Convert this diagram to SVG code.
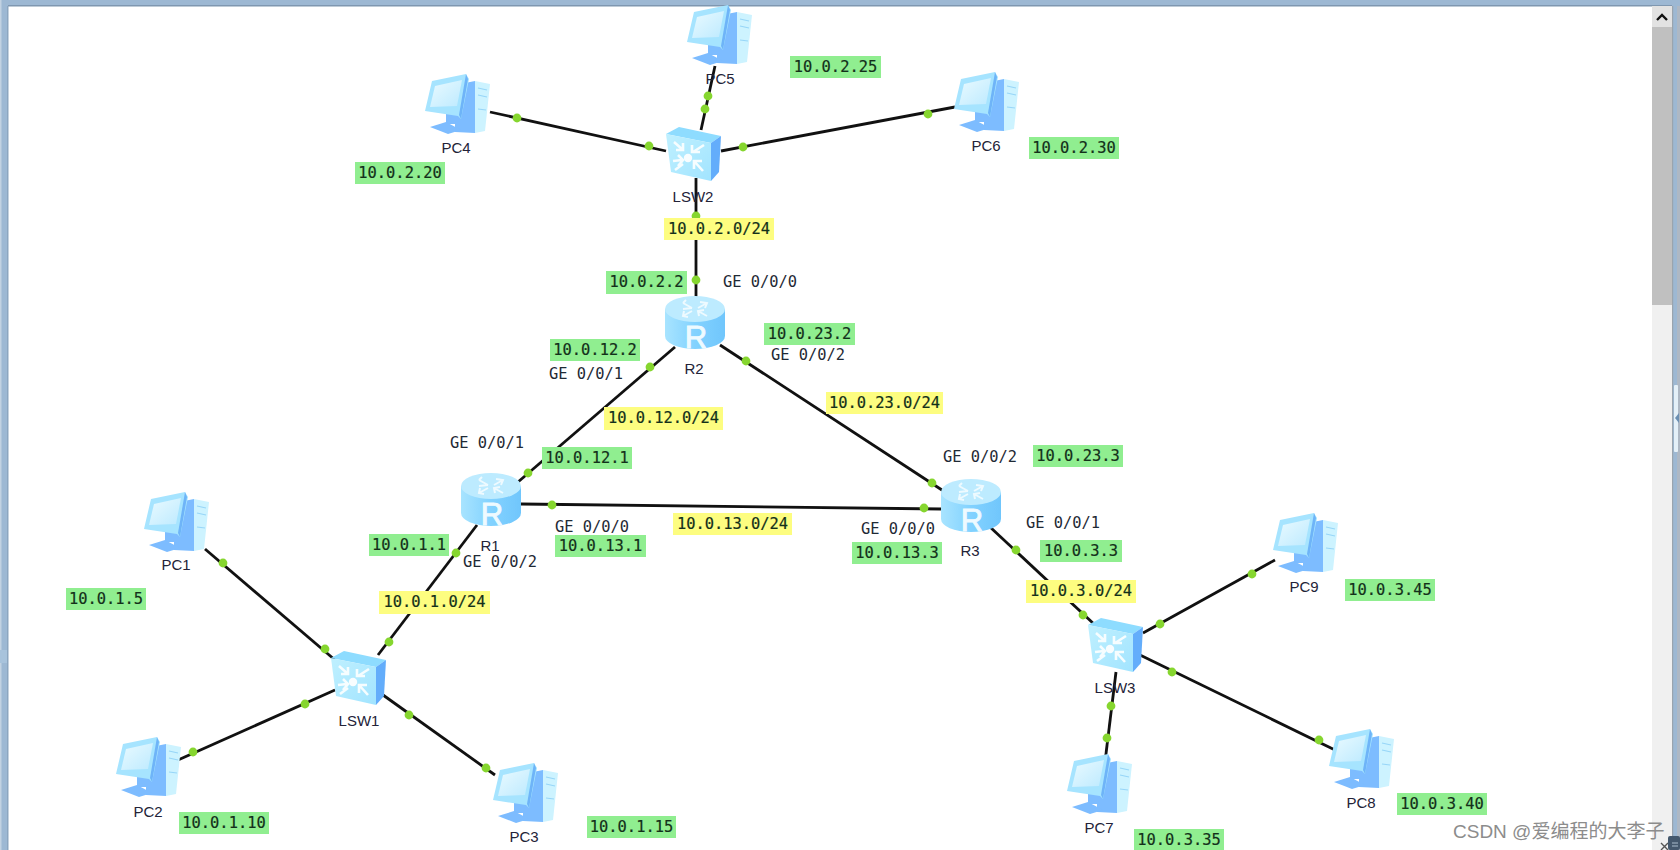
<svg xmlns="http://www.w3.org/2000/svg" width="1680" height="850" viewBox="0 0 1680 850">
<style>
.lnk{stroke:#111;stroke-width:2.8;fill:none}
.dot{fill:#86d62f}
.name{font:15px "Liberation Sans",Arial,sans-serif;fill:#232338;text-anchor:middle}
.mono{font:15.4px "DejaVu Sans Mono",monospace;fill:#1f2a35}
.ip{font:15.4px "DejaVu Sans Mono",monospace;fill:#13301a;text-anchor:middle;stroke:#13301a;stroke-width:.2}
.g{fill:#90ee90}
.y{fill:#fdfd80}
.rl{font:31px "Liberation Sans",Arial,sans-serif;fill:#eefaff;stroke:#eefaff;stroke-width:.9;text-anchor:middle}
.fr{fill:#9db8d3}
</style>
<defs>
<filter id="soft" x="-10%" y="-10%" width="120%" height="120%"><feGaussianBlur stdDeviation=".45"/></filter>
<linearGradient id="rb" x1="0" x2="1" y1="0" y2="0"><stop offset="0" stop-color="#a8e4ff"/><stop offset=".5" stop-color="#82d2ff"/><stop offset="1" stop-color="#70c6fc"/></linearGradient>
<linearGradient id="sf" x1="0" x2="1" y1="0" y2="1"><stop offset="0" stop-color="#bff0ff"/><stop offset="1" stop-color="#a2e4ff"/></linearGradient>
<linearGradient id="scr" x1="0" x2="1" y1="0" y2="1"><stop offset="0" stop-color="#eafaff"/><stop offset="1" stop-color="#bdeaff"/></linearGradient>
<g id="pc" filter="url(#soft)">
<polygon points="-2,-19 18,-23 18,29 -2,28" fill="#7dbcff"/>
<polygon points="18,-23 33,-20 28,27 18,29" fill="#cdf3ff"/>
<path d="M21,-16L30,-14M21,-9L30,-7M21,5L29,6" stroke="#97d6f8" stroke-width="1.2"/>
<polygon points="-11,9 -2,9 -2,20 -11,20" fill="#7dbcff"/>
<polygon points="-27,23 -11,18 4,26 -9,30" fill="#7dbcff"/>
<polygon points="-25,-23 9,-30 12,-25 4,15 1,12 -32,7" fill="#a6e4ff"/>
<polygon points="9,-30 11,-25 4,15 2,11" fill="#6eb4f8"/>
<polygon points="-22,-18 5,-24 0,2 -27,3" fill="url(#scr)"/>
</g>
<g id="sw" filter="url(#soft)">
<polygon points="-27,-20 -14,-27 28,-18 18,-11" fill="#8edcff"/>
<polygon points="-27,-20 18,-11 18,27 -22,18" fill="url(#sf)"/>
<polygon points="18,-11 28,-18 26,18 18,27" fill="#63adfb"/>
<g stroke="#f6fdff" stroke-width="2.6" fill="none">
<path d="M-19,-12L-10,-4M-10,-11V-4H-17"/>
<path d="M11,-9L0,-2M-1,-9V-2H7"/>
<path d="M-20,7L-11,6M-15,1L-10,6L-15,12"/>
<path d="M10,17L1,7M1,15V7H9"/>
<path d="M-18,16L-10,10"/>
</g>
<circle cx="-5" cy="4" r="4.2" fill="#f8fdff"/>
</g>
<g id="rt" filter="url(#soft)">
<path d="M-30,-14V13A30,13 0 0 0 30,13V-14Z" fill="url(#rb)"/>
<ellipse cx="0" cy="-14" rx="30" ry="13" fill="#bdebff"/>
<g stroke="#eefaff" stroke-width="2" fill="none">
<path d="M-12,-20L-3,-15M-12,-14L-3,-15M-9,-23L-12,-20"/>
<path d="M12,-20L3,-15M5,-21L12,-20L10,-15"/>
<path d="M-12,-7L-3,-12M-11,-12L-12,-7L-7,-6"/>
<path d="M12,-7L3,-12M4,-7L3,-12L9,-13"/>
</g>
</g>
</defs>

<rect width="1680" height="850" fill="#fff"/>
<g id="frame">
<rect class="fr" width="1680" height="5"/>
<rect y="5" width="1680" height="1.5" fill="#7f97b0"/>
<rect class="fr" width="8" height="850" y="0"/>
<rect x="0" y="0" width="1.5" height="850" fill="#c2d2e2"/>
<rect x="0" y="650" width="8" height="13" fill="#a8c3dc"/>
<rect x="7" y="6" width="1.5" height="844" fill="#8ca6c0"/>
<rect x="1652" y="6" width="20" height="844" fill="#f0f0f0"/>
<rect x="1652" y="6" width="20" height="21" fill="#e2e2e2"/>
<path d="M1657,20L1662,15L1667,20" stroke="#111" stroke-width="2.4" fill="none"/>
<rect x="1652" y="27" width="20" height="278" fill="#c0c0c0"/>
<rect x="1672" y="0" width="8" height="850" fill="#9db8d3"/>
<rect x="1672" y="6" width="1.2" height="844" fill="#9aa4ae"/>
<rect x="1677" y="6" width="3" height="844" fill="#aeb8c4"/>
<rect x="1674" y="385" width="4" height="67" rx="1" fill="#e4f0f8"/>
<path d="M1679,413L1675,418L1679,423Z" fill="#6b8fb2"/>
<path d="M1661,843L1668,850M1668,843L1661,850" stroke="#555" stroke-width="1.4"/>
<rect x="1668" y="836" width="12" height="14" rx="2" fill="#44586d"/>
<path d="M1672,843H1678M1672,846H1678" stroke="#a9bccd" stroke-width="1"/>
</g>

<g id="connectors">
<path class="lnk" d="M490,112L666,151"/>
<path class="lnk" d="M715,66L701,130"/>
<path class="lnk" d="M721,151L955,107"/>
<path class="lnk" d="M696,178V300"/>
<path class="lnk" d="M675,347L518,482"/>
<path class="lnk" d="M720,345L945,492"/>
<path class="lnk" d="M521,504L941,509"/>
<path class="lnk" d="M477,525L378,655"/>
<path class="lnk" d="M205,549L335,660"/>
<path class="lnk" d="M178,760L335,690"/>
<path class="lnk" d="M383,695L495,775"/>
<path class="lnk" d="M990,527L1095,625"/>
<path class="lnk" d="M1143,633L1275,560"/>
<path class="lnk" d="M1140,655L1335,750"/>
<path class="lnk" d="M1116,672L1104,770"/>
<g class="dot">
<circle cx="517" cy="118" r="4.4"/><circle cx="649" cy="146" r="4.4"/>
<circle cx="708" cy="96" r="4.4"/><circle cx="705" cy="109" r="4.4"/>
<circle cx="743" cy="147" r="4.4"/><circle cx="928" cy="114" r="4.4"/>
<circle cx="696" cy="216" r="4.4"/><circle cx="696" cy="280" r="4.4"/>
<circle cx="650" cy="367" r="4.4"/><circle cx="528" cy="473" r="4.4"/>
<circle cx="746" cy="361" r="4.4"/><circle cx="932" cy="483" r="4.4"/>
<circle cx="552" cy="505" r="4.4"/><circle cx="924" cy="508" r="4.4"/>
<circle cx="456" cy="553" r="4.4"/><circle cx="389" cy="642" r="4.4"/>
<circle cx="223" cy="563" r="4.4"/><circle cx="325" cy="649" r="4.4"/>
<circle cx="305" cy="704" r="4.4"/><circle cx="193" cy="752" r="4.4"/>
<circle cx="409" cy="715" r="4.4"/><circle cx="486" cy="768" r="4.4"/>
<circle cx="1016" cy="550" r="4.4"/><circle cx="1083" cy="615" r="4.4"/>
<circle cx="1160" cy="624" r="4.4"/><circle cx="1252" cy="574" r="4.4"/>
<circle cx="1172" cy="672" r="4.4"/><circle cx="1319" cy="740" r="4.4"/>
<circle cx="1111" cy="706" r="4.4"/><circle cx="1107" cy="738" r="4.4"/>
</g>
</g>

<g id="PC1"><use href="#pc" x="176" y="522"/><text class="name" x="176" y="570">PC1</text></g>
<g id="PC2"><use href="#pc" x="148" y="767"/><text class="name" x="148" y="817">PC2</text></g>
<g id="PC3"><use href="#pc" x="525" y="793"/><text class="name" x="524" y="842">PC3</text></g>
<g id="PC4"><use href="#pc" x="457" y="104"/><text class="name" x="456" y="153">PC4</text></g>
<g id="PC5"><use href="#pc" x="719" y="35"/><text class="name" x="720" y="84">PC5</text></g>
<g id="PC6"><use href="#pc" x="986" y="102"/><text class="name" x="986" y="151">PC6</text></g>
<g id="PC7"><use href="#pc" x="1099" y="784"/><text class="name" x="1099" y="833">PC7</text></g>
<g id="PC8"><use href="#pc" x="1361" y="759"/><text class="name" x="1361" y="808">PC8</text></g>
<g id="PC9"><use href="#pc" x="1305" y="543"/><text class="name" x="1304" y="592">PC9</text></g>
<g id="LSW1"><use href="#sw" x="358" y="678"/><text class="name" x="359" y="726">LSW1</text></g>
<g id="LSW2"><use href="#sw" x="693" y="154"/><text class="name" x="693" y="202">LSW2</text></g>
<g id="LSW3"><use href="#sw" x="1115" y="645"/><text class="name" x="1115" y="693">LSW3</text></g>
<g id="R1"><use href="#rt" x="491" y="500"/><text class="rl" x="492" y="525">R</text><text class="name" x="490" y="551">R1</text></g>
<g id="R2"><use href="#rt" x="695" y="323"/><text class="rl" x="696" y="348">R</text><text class="name" x="694" y="374">R2</text></g>
<g id="R3"><use href="#rt" x="971" y="506"/><text class="rl" x="972" y="531">R</text><text class="name" x="970" y="556">R3</text></g>

<g id="interfaces">
<text class="mono" x="723" y="287">GE 0/0/0</text>
<text class="mono" x="771" y="360">GE 0/0/2</text>
<text class="mono" x="549" y="379">GE 0/0/1</text>
<text class="mono" x="450" y="448">GE 0/0/1</text>
<text class="mono" x="555" y="532">GE 0/0/0</text>
<text class="mono" x="463" y="567">GE 0/0/2</text>
<text class="mono" x="861" y="534">GE 0/0/0</text>
<text class="mono" x="943" y="462">GE 0/0/2</text>
<text class="mono" x="1026" y="528">GE 0/0/1</text>
</g>

<g id="addresses">
<rect class="g" x="790" y="56" width="91" height="22"/><text class="ip" x="835.5" y="71.5">10.0.2.25</text>
<rect class="g" x="355" y="162" width="90" height="22"/><text class="ip" x="400" y="177.5">10.0.2.20</text>
<rect class="g" x="1029" y="137" width="90" height="22"/><text class="ip" x="1074" y="152.5">10.0.2.30</text>
<rect class="g" x="606" y="271" width="81" height="23"/><text class="ip" x="646.5" y="286.5">10.0.2.2</text>
<rect class="g" x="764" y="323" width="91" height="22"/><text class="ip" x="809.5" y="338.5">10.0.23.2</text>
<rect class="g" x="550" y="339" width="90" height="22"/><text class="ip" x="595" y="354.5">10.0.12.2</text>
<rect class="g" x="542" y="447" width="90" height="22"/><text class="ip" x="587" y="462.5">10.0.12.1</text>
<rect class="g" x="1033" y="445" width="90" height="22"/><text class="ip" x="1078" y="460.5">10.0.23.3</text>
<rect class="g" x="369" y="534" width="80" height="22"/><text class="ip" x="409" y="549.5">10.0.1.1</text>
<rect class="g" x="555" y="535" width="91" height="22"/><text class="ip" x="600.5" y="550.5">10.0.13.1</text>
<rect class="g" x="852" y="542" width="90" height="22"/><text class="ip" x="897" y="557.5">10.0.13.3</text>
<rect class="g" x="1040" y="540" width="82" height="22"/><text class="ip" x="1081" y="555.5">10.0.3.3</text>
<rect class="g" x="66" y="588" width="80" height="22"/><text class="ip" x="106" y="603.5">10.0.1.5</text>
<rect class="g" x="179" y="812" width="90" height="22"/><text class="ip" x="224" y="827.5">10.0.1.10</text>
<rect class="g" x="587" y="816" width="89" height="22"/><text class="ip" x="631.5" y="831.5">10.0.1.15</text>
<rect class="g" x="1345" y="579" width="90" height="22"/><text class="ip" x="1390" y="594.5">10.0.3.45</text>
<rect class="g" x="1397" y="793" width="90" height="22"/><text class="ip" x="1442" y="808.5">10.0.3.40</text>
<rect class="g" x="1134" y="829" width="90" height="21"/><text class="ip" x="1179" y="845">10.0.3.35</text>
<rect class="y" x="664" y="218" width="110" height="22"/><text class="ip" x="719" y="233.5">10.0.2.0/24</text>
<rect class="y" x="604" y="407" width="119" height="23"/><text class="ip" x="663.5" y="423">10.0.12.0/24</text>
<rect class="y" x="826" y="392" width="117" height="22"/><text class="ip" x="884.5" y="408">10.0.23.0/24</text>
<rect class="y" x="673" y="513" width="119" height="22"/><text class="ip" x="732.5" y="529">10.0.13.0/24</text>
<rect class="y" x="379" y="591" width="111" height="23"/><text class="ip" x="434.5" y="607">10.0.1.0/24</text>
<rect class="y" x="1026" y="580" width="110" height="23"/><text class="ip" x="1081" y="596">10.0.3.0/24</text>
</g>
<text id="watermark" x="1453" y="838" font-family="'Liberation Sans','Noto Sans CJK SC',sans-serif" font-size="19" fill="#8c8c8c">CSDN @爱编程的大李子</text>
</svg>
